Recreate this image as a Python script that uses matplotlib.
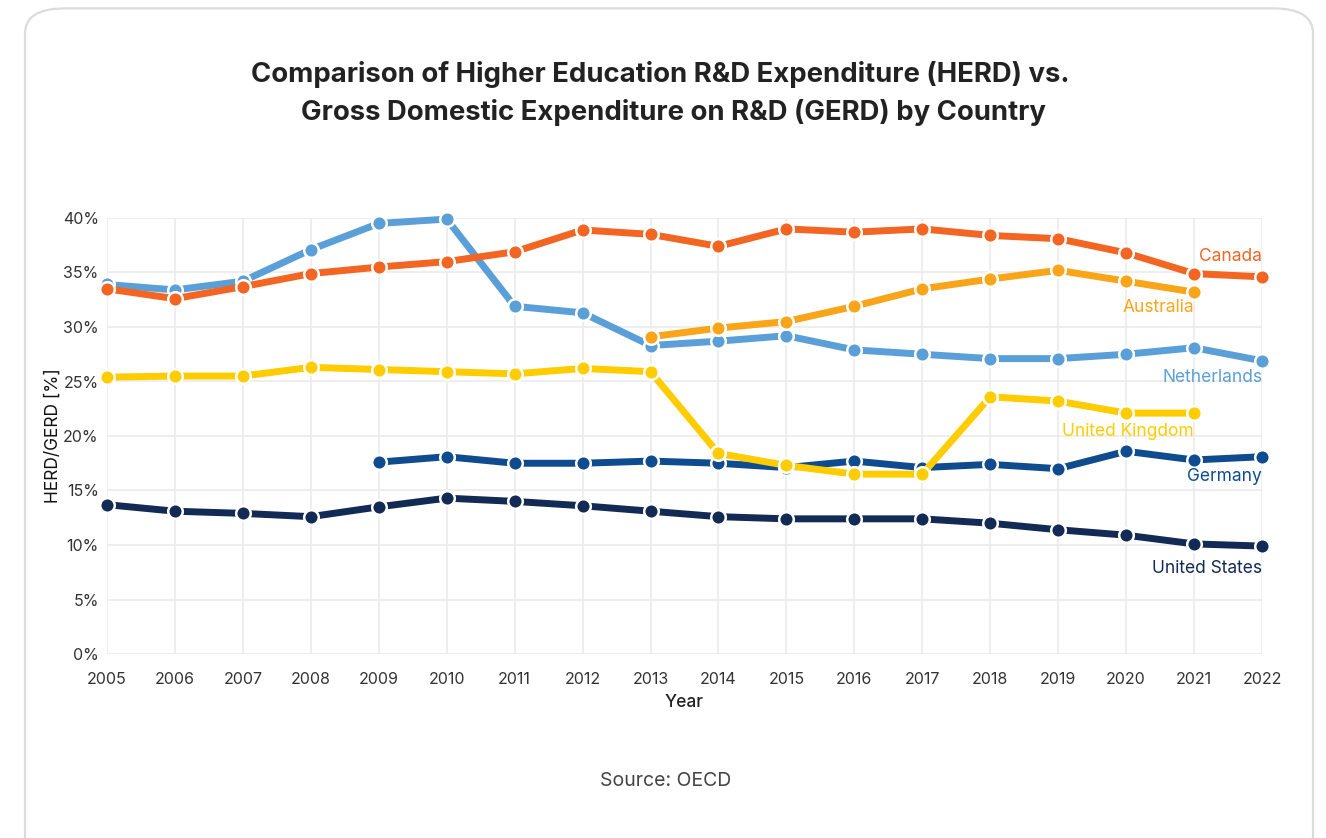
import numpy as np
import matplotlib
matplotlib.use('Agg')
import matplotlib.pyplot as plt
from matplotlib.patches import FancyBboxPatch
from matplotlib.ticker import FuncFormatter

plt.rcParams['font.family'] = ['Inter', 'DejaVu Sans']

years = np.arange(2005, 2023)

# HERD as share of GERD, percent (NaN where no data)
canada = [33.5, 32.6, 33.7, 34.9, 35.5, 36.0, 36.9, 38.9, 38.5, 37.4,
          39.0, 38.7, 39.0, 38.4, 38.1, 36.8, 34.9, 34.6]
netherlands = [33.9, 33.4, 34.2, 37.1, 39.5, 39.9, 31.9, 31.3, 28.3, 28.7,
               29.2, 27.9, 27.5, 27.1, 27.1, 27.5, 28.1, 26.9]
australia = [np.nan] * 8 + [29.1, 29.9, 30.5, 31.9, 33.5, 34.4, 35.2, 34.2, 33.2, np.nan]
uk = [25.4, 25.5, 25.5, 26.3, 26.1, 25.9, 25.7, 26.2, 25.9, 18.4,
      17.3, 16.5, 16.5, 23.6, 23.2, 22.1, 22.1, np.nan]
germany = [np.nan] * 4 + [17.6, 18.1, 17.5, 17.5, 17.7, 17.5,
                          17.1, 17.7, 17.1, 17.4, 17.0, 18.6, 17.8, 18.1]
usa = [13.7, 13.1, 12.9, 12.6, 13.5, 14.3, 14.0, 13.6, 13.1, 12.6,
       12.4, 12.4, 12.4, 12.0, 11.4, 10.9, 10.1, 9.9]

# drawing order, colour, label anchor (year, y), label offset in points
series = [
    ('United States', usa, '#132a55', 2022, 9.9, -16),
    ('Germany', germany, '#0f4c8f', 2022, 18.1, -14),
    ('United Kingdom', uk, '#ffcc00', 2021, 22.1, -13),
    ('Netherlands', netherlands, '#5b9fd8', 2022, 26.9, -12),
    ('Australia', australia, '#f9a51a', 2021, 33.2, -11),
    ('Canada', canada, '#f26522', 2022, 34.6, 15),
]

fig = plt.figure(figsize=(13.26, 8.38), dpi=100)
fig.patch.set_facecolor('white')

# rounded card outline behind everything
card = FancyBboxPatch((25 / 1326, -0.05), 1288 / 1326, 1.04,
                      boxstyle='round,pad=0,rounding_size=0.03',
                      transform=fig.transFigure, facecolor='none',
                      edgecolor='#dcdcdc', linewidth=1.6, zorder=-10)
fig.patches.append(card)

ax = fig.add_axes([107 / 1326, 1 - 654 / 838, 1155 / 1326, 436 / 838])
ax.set_facecolor('none')

for name, vals, col, lx, ly, dy in series:
    ax.plot(years, vals, color=col, lw=5, marker='o', ms=10.5,
            mfc=col, mec='white', mew=1.8, solid_capstyle='round',
            zorder=3, clip_on=False)
    ax.annotate(name, (lx, ly), xytext=(0, dy), textcoords='offset points',
                ha='right', va='center', color=col, fontsize=12.5)

ax.set_xlim(2005, 2022)
ax.set_ylim(0, 40)
ax.set_xticks(years)
ax.set_yticks(np.arange(0, 41, 5))
ax.yaxis.set_major_formatter(FuncFormatter(lambda v, p: f'{v:.0f}%'))
ax.grid(True, color='#ebebeb', lw=1.2)
ax.set_axisbelow(True)
for s in ax.spines.values():
    s.set_visible(False)
ax.tick_params(length=0, colors='#333333', labelsize=11.5)
ax.tick_params(axis='x', pad=13)
ax.tick_params(axis='y', pad=6)

ax.set_xlabel('Year', fontsize=12.5, color='#222222', fontweight='medium', labelpad=5)
ax.set_ylabel('HERD/GERD [%]', fontsize=12.5, color='#111111', labelpad=1)

fig.text(0.498, 1 - 75 / 838, 'Comparison of Higher Education R&D Expenditure (HERD) vs.',
         ha='center', va='center', fontsize=19.8, fontweight='bold', color='#222222')
fig.text(0.5075, 1 - 113 / 838, 'Gross Domestic Expenditure on R&D (GERD) by Country',
         ha='center', va='center', fontsize=19.8, fontweight='bold', color='#222222')
fig.text(0.502, 1 - 781 / 838, 'Source: OECD', ha='center', va='center',
         fontsize=14, color='#444444')

fig.savefig('out.png', dpi=100)
